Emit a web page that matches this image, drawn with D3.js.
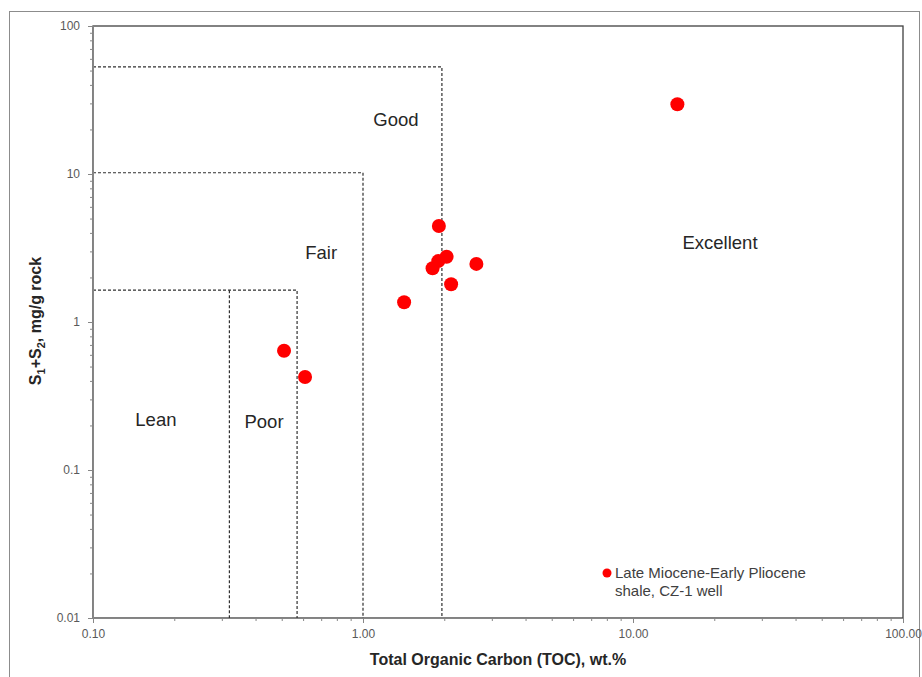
<!DOCTYPE html>
<html lang="en">
	<head>
		<meta charset="utf-8">
		<title>D3: TOC vs S1+S2</title>
		<script src="https://d3js.org/d3.v7.min.js" charset="utf-8"></script>
		<style type="text/css">
			body { margin: 0; background: #fff; }
			svg text { font-family: "Liberation Sans", Arial, sans-serif; }
			.tick text { font-size: 12px; fill: #595959; }
			.axis path, .axis line { stroke: #868686; }
			.zone { fill: none; stroke: #303030; stroke-width: 1.2; stroke-dasharray: 3,2; }
			.zlabel { font-size: 18.5px; fill: #262626; text-anchor: middle; }
		</style>
	</head>
	<body>
		<script type="text/javascript">

			//Sample points (TOC wt.%, S1+S2 mg/g rock)
			var toc = [0.51, 0.61, 1.42, 1.91, 2.04, 1.90, 1.81, 2.12, 2.63, 14.6];
			var s1s2 = [0.64, 0.425, 1.36, 4.45, 2.76, 2.58, 2.31, 1.80, 2.47, 29.6];

			//Zone boundaries
			var zoneX = [0.32, 0.57, 1.0, 1.96];
			var zoneY = [1.64, 10.2, 53];

			//Zone labels
			var zoneNames = ["Lean", "Poor", "Fair", "Good", "Excellent"];
			var zoneNameX = [0.171, 0.43, 0.70, 1.325, 21];
			var zoneNameY = [0.221, 0.214, 2.97, 23.5, 3.42];

			//Tick values
			var xTicks = [0.1, 1, 10, 100];
			var yTicks = [0.01, 0.1, 1, 10, 100];

			var w = 922, h = 677;
			var pLeft = 93, pRight = 903, pTop = 26, pBottom = 618;

			var svg = d3.select("body").append("svg")
				.attr("width", w)
				.attr("height", h);

			//Outer frame
			svg.append("rect")
				.attr("x", 9.5).attr("y", 11.5)
				.attr("width", 910).attr("height", 700)
				.attr("fill", "none")
				.attr("stroke", "#8c8c8c");

			var xScale = d3.scaleLog().domain([0.1, 100]).range([pLeft, pRight]);
			var yScale = d3.scaleLog().domain([0.01, 100]).range([pBottom, pTop]);

			//Minor ticks 2..9 in each decade
			var minorX = [], minorY = [];
			[0.1, 1, 10].forEach(function(d) {
				for (var k = 2; k < 10; k++) minorX.push(d * k);
			});
			[0.01, 0.1, 1, 10].forEach(function(d) {
				for (var k = 2; k < 10; k++) minorY.push(d * k);
			});

			//Plot frame (top and right)
			svg.append("rect")
				.attr("x", pLeft).attr("y", pTop)
				.attr("width", pRight - pLeft).attr("height", pBottom - pTop)
				.attr("fill", "none")
				.attr("stroke", "#404040")
				.attr("stroke-width", 1.3);

			//Dashed zone boxes
			var zones = [
				[[0.1, zoneY[2]], [zoneX[3], zoneY[2]], [zoneX[3], 0.01]],
				[[0.1, zoneY[1]], [zoneX[2], zoneY[1]], [zoneX[2], 0.01]],
				[[0.1, zoneY[0]], [zoneX[1], zoneY[0]], [zoneX[1], 0.01]],
				[[zoneX[0], zoneY[0]], [zoneX[0], 0.01]]
			];
			var zoneLine = d3.line()
				.x(function(d) { return xScale(d[0]); })
				.y(function(d) { return yScale(d[1]); });
			svg.selectAll("path.zone")
				.data(zones)
				.enter().append("path")
				.attr("class", "zone")
				.attr("d", zoneLine);

			//Zone labels
			svg.selectAll("text.zlabel")
				.data(zoneNames)
				.enter().append("text")
				.attr("class", "zlabel")
				.attr("x", function(d, i) { return xScale(zoneNameX[i]); })
				.attr("y", function(d, i) { return yScale(zoneNameY[i]); })
				.attr("dy", "0.35em")
				.text(function(d) { return d; });

			//Axes
			var xAxis = d3.axisBottom(xScale).tickValues(xTicks).tickSize(5).tickPadding(6)
				.tickFormat(d3.format(".2f"));
			var xMinor = d3.axisBottom(xScale).tickValues(minorX).tickSize(3).tickFormat("");
			var yAxis = d3.axisLeft(yScale).tickValues(yTicks).tickSize(5).tickPadding(8)
				.tickFormat(function(d) { return d >= 1 ? d3.format("d")(d) : String(+d.toFixed(2)); });
			var yMinor = d3.axisLeft(yScale).tickValues(minorY).tickSize(3).tickFormat("");

			svg.append("g").attr("class", "axis")
				.attr("transform", "translate(0," + pBottom + ")").call(xMinor);
			svg.append("g").attr("class", "axis")
				.attr("transform", "translate(0," + pBottom + ")").call(xAxis);
			svg.append("g").attr("class", "axis")
				.attr("transform", "translate(" + pLeft + ",0)").call(yMinor);
			svg.append("g").attr("class", "axis")
				.attr("transform", "translate(" + pLeft + ",0)").call(yAxis);
			svg.selectAll(".axis path.domain").attr("stroke", "#868686");

			//Points
			svg.selectAll("circle.pt")
				.data(toc)
				.enter().append("circle")
				.attr("class", "pt")
				.attr("cx", function(d) { return xScale(d); })
				.attr("cy", function(d, i) { return yScale(s1s2[i]); })
				.attr("r", 7)
				.attr("fill", "#ff0000");

			//Legend
			svg.append("circle")
				.attr("cx", 607).attr("cy", 573).attr("r", 4.5)
				.attr("fill", "#ff0000");
			svg.append("text")
				.attr("x", 615).attr("y", 578)
				.style("font-size", "15px").style("fill", "#404040")
				.text("Late Miocene-Early Pliocene");
			svg.append("text")
				.attr("x", 615).attr("y", 596)
				.style("font-size", "15px").style("fill", "#404040")
				.text("shale, CZ-1 well");

			//Axis titles
			svg.append("text")
				.attr("x", (pLeft + pRight) / 2).attr("y", 665)
				.attr("text-anchor", "middle")
				.style("font-size", "16px").style("font-weight", "bold").style("fill", "#262626")
				.text("Total Organic Carbon (TOC), wt.%");

			var yt = svg.append("text")
				.attr("transform", "translate(41," + 321 + ") rotate(-90)")
				.attr("text-anchor", "middle")
				.style("font-size", "16px").style("font-weight", "bold").style("fill", "#262626");
			yt.append("tspan").text("S");
			yt.append("tspan").attr("dy", 4).style("font-size", "11px").text("1");
			yt.append("tspan").attr("dy", -4).text("+S");
			yt.append("tspan").attr("dy", 4).style("font-size", "11px").text("2");
			yt.append("tspan").attr("dy", -4).text(", mg/g rock");

		</script>
	</body>
</html>
